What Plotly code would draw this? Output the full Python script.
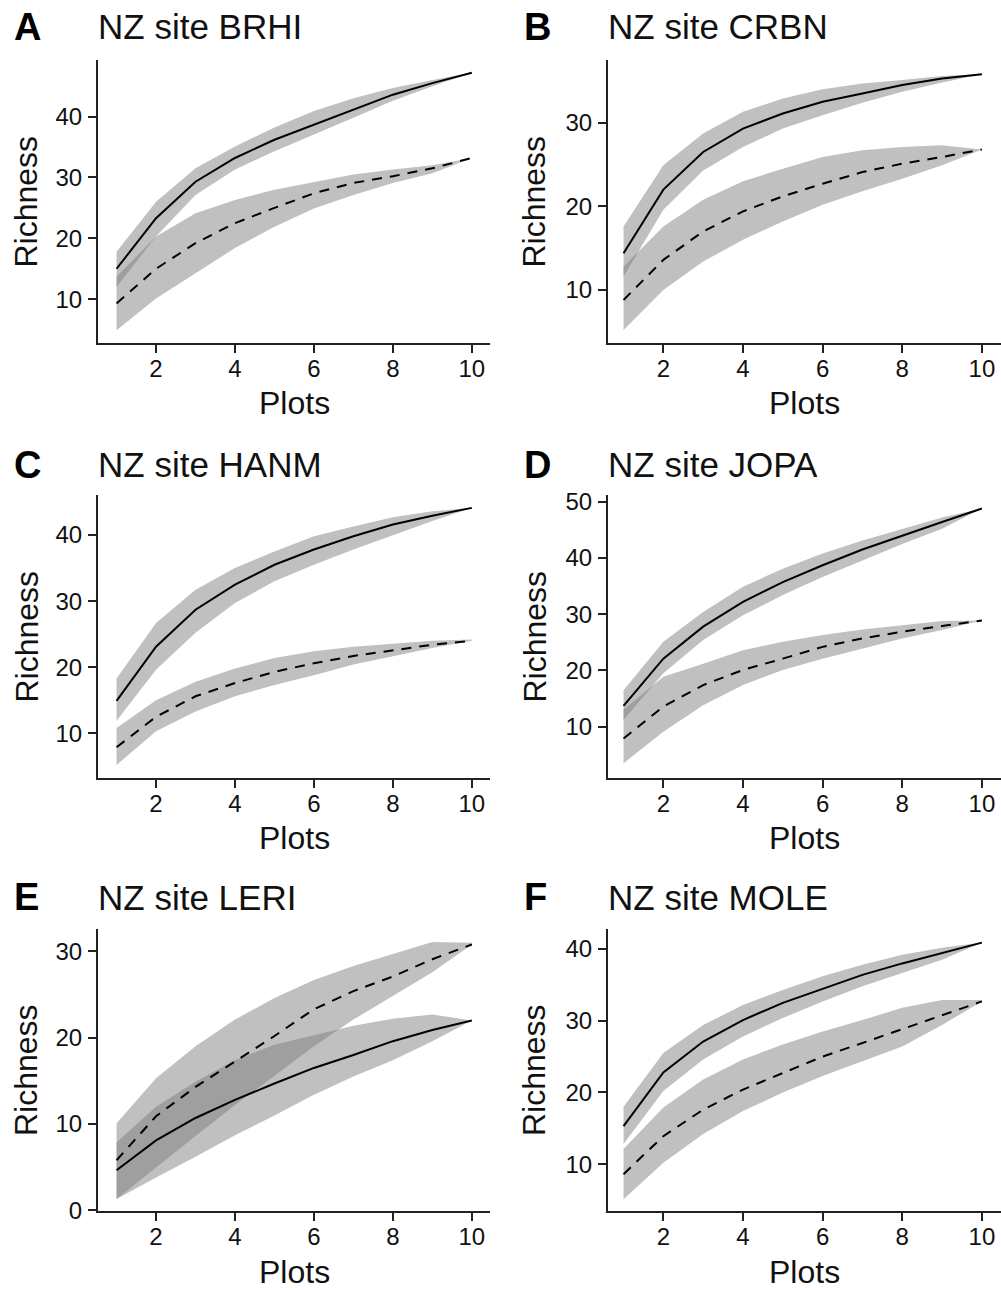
import plotly.graph_objects as go

W, H = 1001, 1290

plots = [1, 2, 3, 4, 5, 6, 7, 8, 9, 10]
x_ticks = [2, 4, 6, 8, 10]

panel_letters = ["A", "B", "C", "D", "E", "F"]
site_names = ["NZ site BRHI", "NZ site CRBN", "NZ site HANM",
              "NZ site JOPA", "NZ site LERI", "NZ site MOLE"]

# Panel A - BRHI
a_solid = [15.0, 23.3, 29.3, 33.2, 36.2, 38.7, 41.2, 43.6, 45.5, 47.2]
a_solid_hi = [17.8, 26.0, 31.5, 35.1, 38.2, 40.9, 43.0, 44.7, 46.0, 47.2]
a_solid_lo = [12.0, 20.3, 27.1, 31.3, 34.3, 37.0, 39.8, 42.6, 45.0, 47.2]
a_dash = [9.3, 15.0, 19.2, 22.5, 25.0, 27.4, 29.1, 30.2, 31.5, 33.2]
a_dash_hi = [13.7, 20.3, 24.1, 26.3, 28.0, 29.3, 30.5, 31.3, 32.0, 33.2]
a_dash_lo = [4.9, 10.1, 14.2, 18.4, 21.9, 24.9, 27.1, 29.1, 30.7, 33.2]

# Panel B - CRBN
b_solid = [14.4, 22.0, 26.5, 29.3, 31.1, 32.5, 33.5, 34.5, 35.3, 35.8]
b_solid_hi = [17.6, 24.9, 28.7, 31.3, 32.9, 34.0, 34.7, 35.1, 35.6, 35.8]
b_solid_lo = [11.6, 19.6, 24.3, 27.1, 29.3, 30.9, 32.4, 33.7, 34.8, 35.8]
b_dash = [8.8, 13.6, 17.0, 19.4, 21.2, 22.7, 24.1, 25.1, 25.9, 26.8]
b_dash_hi = [12.8, 17.6, 20.8, 23.0, 24.5, 25.9, 26.7, 27.1, 27.3, 26.8]
b_dash_lo = [5.2, 10.0, 13.4, 16.0, 18.2, 20.2, 21.8, 23.3, 24.9, 26.8]

# Panel C - HANM
c_solid = [14.9, 23.1, 28.7, 32.5, 35.5, 37.8, 39.8, 41.6, 42.9, 44.1]
c_solid_hi = [18.3, 26.7, 31.7, 35.0, 37.5, 39.8, 41.3, 42.7, 43.6, 44.1]
c_solid_lo = [11.9, 19.6, 25.2, 29.7, 33.0, 35.5, 37.8, 40.0, 42.1, 44.1]
c_dash = [7.9, 12.5, 15.6, 17.6, 19.3, 20.6, 21.7, 22.6, 23.4, 24.0]
c_dash_hi = [10.8, 15.0, 17.8, 19.8, 21.4, 22.4, 23.1, 23.6, 24.0, 24.2]
c_dash_lo = [5.2, 10.3, 13.3, 15.6, 17.3, 18.8, 20.4, 21.6, 22.9, 24.0]

# Panel D - JOPA
d_solid = [13.7, 22.1, 27.8, 32.2, 35.7, 38.7, 41.5, 44.0, 46.4, 48.8]
d_solid_hi = [16.5, 25.1, 30.4, 34.9, 38.1, 40.8, 43.1, 45.2, 47.2, 48.8]
d_solid_lo = [11.2, 19.5, 25.4, 29.8, 33.4, 36.6, 39.6, 42.5, 45.2, 48.8]
d_dash = [7.9, 13.6, 17.4, 20.1, 22.1, 24.2, 25.7, 26.9, 27.9, 28.9]
d_dash_hi = [13.0, 18.9, 21.2, 23.6, 25.1, 26.3, 27.3, 28.0, 28.8, 28.9]
d_dash_lo = [3.5, 9.1, 13.8, 17.4, 20.1, 22.1, 23.9, 25.7, 27.2, 28.9]

# Panel E - LERI
e_solid = [4.65, 8.1, 10.7, 12.8, 14.7, 16.5, 18.0, 19.6, 20.9, 22.0]
e_solid_hi = [7.9, 12.0, 14.9, 17.4, 19.2, 20.3, 21.4, 22.2, 22.7, 22.0]
e_solid_lo = [1.3, 3.8, 6.2, 8.7, 11.0, 13.4, 15.5, 17.4, 19.6, 22.0]
e_dash = [5.8, 10.9, 14.3, 17.2, 20.2, 23.3, 25.4, 27.1, 29.1, 30.8]
e_dash_hi = [10.1, 15.3, 19.0, 22.1, 24.6, 26.7, 28.3, 29.7, 31.1, 31.0]
e_dash_lo = [1.3, 5.0, 8.6, 12.2, 15.6, 19.0, 22.1, 24.8, 27.6, 30.8]

# Panel F - MOLE
f_solid = [15.3, 22.8, 27.1, 30.1, 32.5, 34.5, 36.4, 38.0, 39.5, 40.9]
f_solid_hi = [18.0, 25.5, 29.4, 32.2, 34.3, 36.2, 37.8, 39.2, 40.2, 40.9]
f_solid_lo = [12.8, 20.2, 24.6, 27.8, 30.4, 32.7, 34.8, 36.6, 38.5, 40.9]
f_dash = [8.6, 13.9, 17.6, 20.4, 22.7, 25.0, 26.9, 28.8, 30.8, 32.7]
f_dash_hi = [12.1, 17.9, 21.8, 24.6, 26.7, 28.5, 30.1, 31.8, 32.9, 32.9]
f_dash_lo = [5.1, 10.2, 14.2, 17.4, 20.0, 22.3, 24.4, 26.4, 29.4, 32.7]

y_ticks = [[10, 20, 30, 40], [10, 20, 30], [10, 20, 30, 40],
           [10, 20, 30, 40, 50], [0, 10, 20, 30], [10, 20, 30, 40]]
y_ranges = [[2.8, 49.3], [3.66, 37.5], [3.24, 46.05],
            [0.88, 51.2], [-0.08, 32.6], [3.46, 42.8]]

panels = [
    (a_solid, a_solid_lo, a_solid_hi, a_dash, a_dash_lo, a_dash_hi),
    (b_solid, b_solid_lo, b_solid_hi, b_dash, b_dash_lo, b_dash_hi),
    (c_solid, c_solid_lo, c_solid_hi, c_dash, c_dash_lo, c_dash_hi),
    (d_solid, d_solid_lo, d_solid_hi, d_dash, d_dash_lo, d_dash_hi),
    (e_solid, e_solid_lo, e_solid_hi, e_dash, e_dash_lo, e_dash_hi),
    (f_solid, f_solid_lo, f_solid_hi, f_dash, f_dash_lo, f_dash_hi),
]

# layout in pixels
col_x = [(98, 490), (608, 1001)]
col_xrange = [[0.53, 10.46], [0.61, 10.48]]
row_y = [(60, 343), (495, 778), (929, 1211)]
title_cy = [27, 465, 897]
plots_cy = [403, 838, 1272]
letter_x = [12, 522]
rich_cx = [26, 534]

FONT = "Liberation Sans, Arial, sans-serif"
AX = "#222222"
BAND = "rgba(122,122,122,0.47)"

fig = go.Figure()
annotations = []

for i, (s, slo, shi, d, dlo, dhi) in enumerate(panels):
    r, c = divmod(i, 2)
    n = i + 1
    xa = "x" if n == 1 else f"x{n}"
    ya = "y" if n == 1 else f"y{n}"
    for lo, hi in ((shi, slo), (dhi, dlo)):
        fig.add_trace(go.Scatter(
            x=plots + plots[::-1], y=lo + hi[::-1], fill="toself",
            fillcolor=BAND, line=dict(width=0), mode="lines",
            hoverinfo="skip", showlegend=False, xaxis=xa, yaxis=ya))
    fig.add_trace(go.Scatter(x=plots, y=s, mode="lines",
                             line=dict(color="black", width=2),
                             showlegend=False, xaxis=xa, yaxis=ya))
    fig.add_trace(go.Scatter(x=plots, y=d, mode="lines",
                             line=dict(color="black", width=2, dash="10px,8px"),
                             showlegend=False, xaxis=xa, yaxis=ya))

    x0, x1 = col_x[c]
    y0, y1 = row_y[r]
    common = dict(showline=True, linewidth=2, linecolor=AX, showgrid=False,
                  zeroline=False, ticks="outside", ticklen=8, tickwidth=2,
                  tickcolor=AX, automargin=False,
                  tickfont=dict(family=FONT, size=24, color="#111"))
    fig.layout[f"xaxis{'' if n == 1 else n}"] = dict(
        domain=[x0 / W, x1 / W], range=col_xrange[c], tickvals=x_ticks,
        anchor=ya, ticklabelstandoff=-5, **common)
    fig.layout[f"yaxis{'' if n == 1 else n}"] = dict(
        domain=[1 - y1 / H, 1 - y0 / H], range=y_ranges[i], tickvals=y_ticks[i],
        anchor=xa, ticklabelstandoff=1, **common)

    annotations.append(dict(text=f"<b>{panel_letters[i]}</b>", x=letter_x[c] / W,
                            y=1 - title_cy[r] / H, xref="paper", yref="paper",
                            xanchor="left", yanchor="middle", showarrow=False,
                            font=dict(family=FONT, size=38, color="black")))
    annotations.append(dict(text=site_names[i], x=(x0 - 2) / W,
                            y=1 - title_cy[r] / H, xref="paper", yref="paper",
                            xanchor="left", yanchor="middle", showarrow=False,
                            font=dict(family=FONT, size=35, color="#111")))
    annotations.append(dict(text="Plots", x=(x0 + x1) / 2 / W,
                            y=1 - plots_cy[r] / H, xref="paper", yref="paper",
                            xanchor="center", yanchor="middle", showarrow=False,
                            font=dict(family=FONT, size=32, color="#111")))
    annotations.append(dict(text="Richness", x=rich_cx[c] / W,
                            y=1 - (y0 + y1) / 2 / H, xref="paper", yref="paper",
                            xanchor="center", yanchor="middle", showarrow=False,
                            textangle=-90,
                            font=dict(family=FONT, size=32, color="#111")))

fig.update_layout(width=W, height=H,
                  margin=dict(l=0, r=0, t=0, b=0, pad=0, autoexpand=False),
                  paper_bgcolor="white", plot_bgcolor="white",
                  annotations=annotations)

fig.write_html("out.html")
